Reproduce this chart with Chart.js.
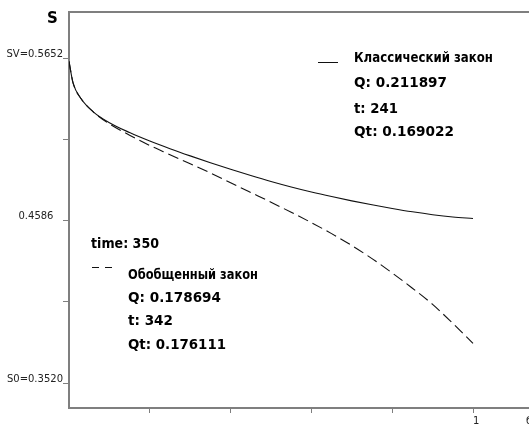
<!DOCTYPE html>
<html>
<head>
<meta charset="utf-8">
<script src="https://cdn.jsdelivr.net/npm/chart.js@4.4.1/dist/chart.umd.min.js"></script>
<style>
html,body{margin:0;padding:0;background:#fff;}
canvas{display:block;}
</style>
</head>
<body>
<canvas id="c" width="529" height="424"></canvas>
<script>
// ---- data ----
const tValues = [0, 0.01, 0.03, 0.06, 0.1, 0.15, 0.2, 0.25, 0.3, 0.35, 0.4, 0.45, 0.5, 0.55, 0.6, 0.65, 0.7, 0.75, 0.8, 0.85, 0.9, 0.95, 1.0];
const classicS = [0.5630, 0.5489, 0.5385, 0.5299, 0.5228, 0.5163, 0.5107, 0.5057, 0.5010, 0.4965, 0.4922, 0.4881, 0.4842, 0.4806, 0.4773, 0.4743, 0.4715, 0.4689, 0.4665, 0.4643, 0.4624, 0.4609, 0.4599];
const generalS = [0.5630, 0.5489, 0.5385, 0.5299, 0.5220, 0.5146, 0.5078, 0.5018, 0.4958, 0.4898, 0.4834, 0.4770, 0.4706, 0.4640, 0.4572, 0.4500, 0.4422, 0.4336, 0.4242, 0.4142, 0.4036, 0.3911, 0.3780];
const yTickValues = [0.3520, 0.4053, 0.4586, 0.5119, 0.5652];
const yTickLabels = ['S0=0.3520', '', '0.4586   ', '', 'SV=0.5652'];
const xTickValues = [0.2, 0.4, 0.6, 0.8, 1.0, 1.131];
const xTickLabels = ['', '', '', '', '1', 'б'];
const axisTitle = 'S';
const classicLines = ['Классический закон', 'Q: 0.211897', 't: 241', 'Qt: 0.169022'];
const generalTime = 'time: 350';
const generalLines = ['Обобщенный закон', 'Q: 0.178694', 't: 342', 'Qt: 0.176111'];

const AXIS = '#7f7f7f';

const decor = {
  id: 'decor',
  afterDraw(chart) {
    const ctx = chart.ctx, a = chart.chartArea;
    ctx.save();
    // top frame line
    ctx.strokeStyle = AXIS; ctx.lineWidth = 2;
    ctx.beginPath(); ctx.moveTo(a.left - 1, a.top); ctx.lineTo(a.right, a.top); ctx.stroke();
    ctx.fillStyle = '#000';
    ctx.textAlign = 'left'; ctx.textBaseline = 'alphabetic';
    ctx.font = 'bold 15px "DejaVu Sans"';
    ctx.fillText(axisTitle, 47, 23);
    ctx.font = 'bold 14px "DejaVu Sans"';
    const cy = [62, 87, 113, 136], cw = [139, 93, 44, 100];
    classicLines.forEach((s, i) => ctx.fillText(s, 354, cy[i], cw[i]));
    ctx.fillText(generalTime, 91, 248, 68);
    const gy = [279, 302, 325, 349], gw = [130, 93, 45, 98];
    generalLines.forEach((s, i) => ctx.fillText(s, 128, gy[i], gw[i]));
    // legend samples
    ctx.strokeStyle = '#111'; ctx.lineWidth = 1;
    ctx.beginPath(); ctx.moveTo(318, 62.5); ctx.lineTo(338, 62.5); ctx.stroke();
    ctx.beginPath(); ctx.moveTo(92, 267.5); ctx.lineTo(99, 267.5); ctx.moveTo(105, 267.5); ctx.lineTo(112, 267.5); ctx.stroke();
    ctx.restore();
  }
};

const toPts = (ys) => tValues.map((t, i) => ({x: t, y: ys[i]}));

new Chart(document.getElementById('c'), {
  type: 'line',
  data: {
    datasets: [
      { label: classicLines[0], data: toPts(classicS), borderColor: '#111', borderWidth: 1.1, pointRadius: 0, cubicInterpolationMode: 'monotone', fill: false },
      { label: generalLines[0], data: toPts(generalS), borderColor: '#111', borderWidth: 1.1, borderDash: [11, 5], pointRadius: 0, cubicInterpolationMode: 'monotone', fill: false }
    ]
  },
  options: {
    responsive: false,
    animation: false,
    layout: { padding: { top: 12, left: 0, right: 0, bottom: 0 } },
    plugins: { legend: { display: false }, tooltip: { enabled: false }, title: { display: false } },
    scales: {
      x: {
        type: 'linear', min: 0, max: 1.1386,
        afterBuildTicks: (s) => { s.ticks = xTickValues.map(v => ({ value: v })); },
        afterFit: (s) => { s.height = 16; s.paddingLeft = 0; s.paddingRight = 0; },
        grid: { drawOnChartArea: false, tickLength: 5, color: (c) => (c.tick && c.tick.value > 1.05) ? 'rgba(0,0,0,0)' : AXIS },
        border: { display: true, color: AXIS, width: 2 },
        ticks: { autoSkip: false, maxRotation: 0, align: 'start', padding: 2, color: '#222',
          font: { family: 'DejaVu Sans', size: 10 },
          callback: (v, i) => xTickLabels[i] }
      },
      y: {
        type: 'linear', min: 0.3356, max: 0.5954,
        afterBuildTicks: (s) => { s.ticks = yTickValues.map(v => ({ value: v })); },
        afterFit: (s) => { s.width = 69; s.paddingTop = 0; s.paddingBottom = 0; },
        grid: { drawOnChartArea: false, tickLength: 6, color: AXIS },
        border: { display: true, color: AXIS, width: 2 },
        ticks: { autoSkip: false, padding: 0, labelOffset: -4, color: '#222',
          font: { family: 'DejaVu Sans', size: 10 },
          callback: (v, i) => yTickLabels[i] }
      }
    }
  },
  plugins: [decor]
});
</script>
</body>
</html>
